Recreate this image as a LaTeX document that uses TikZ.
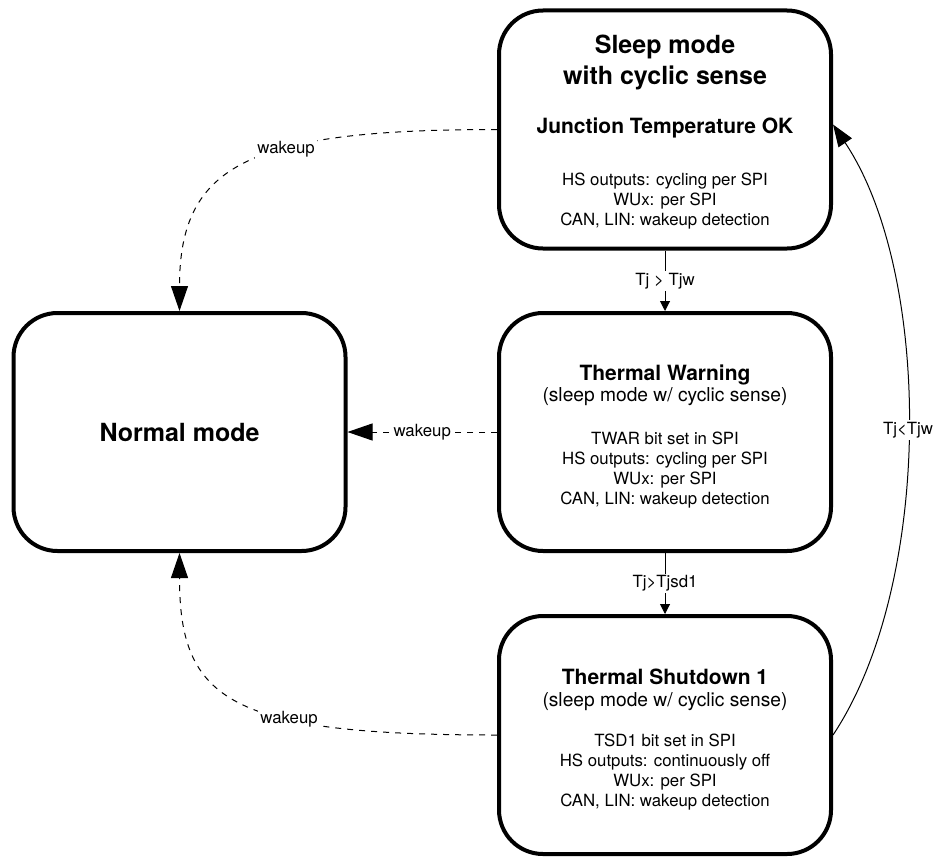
\documentclass[tikz,border=0pt]{standalone}
\usepackage{fontspec}
\setmainfont{TeX Gyre Heros}
\newcommand*{\titlefont}{\fontsize{12.5pt}{15pt}\selectfont\bfseries}
\newcommand*{\headfont}{\fontsize{10.5pt}{12.5pt}\selectfont\bfseries}
\newcommand*{\subfont}{\fontsize{9.6pt}{11.5pt}\selectfont}
\newcommand*{\bodyfont}{\fontsize{8.4pt}{10pt}\selectfont}
\usepackage{tikz}
\usetikzlibrary{arrows.meta}
\usetikzlibrary{positioning}
\tikzstyle{base}=[font=\bodyfont, inner sep=1pt]
\tikzstyle{state}=[draw, line width=2pt, rounded corners=22pt, minimum width=166pt, minimum height=119pt, align=center]
\tikzstyle{temp}=[line width=0.5pt, -{Triangle[length=5pt,width=5pt]}]
\tikzstyle{wake}=[line width=0.5pt, dashed, -{Triangle[length=12.5pt,width=8.5pt]}]
\tikzstyle{back}=[line width=0.5pt, -{Triangle[length=11pt,width=8pt]}]
\tikzstyle{lbl}=[fill=white, inner sep=1pt]

\begin{document}
\begin{tikzpicture}[base]
    \useasboundingbox (0,0) rectangle (467.5pt,429.5pt);
        \node [state] (sleep) at (332.5pt,364.75pt) {{\titlefont\rule{0pt}{12pt}Sleep mode}\\[2.5pt]{\titlefont with cyclic sense}\\[13pt]{\headfont Junction Temperature OK}\\[16pt]HS outputs: cycling per SPI\\WUx: per SPI\\CAN, LIN: wakeup detection};
        \node [state, below=30.25pt of sleep] (warn) {{\headfont\rule{0pt}{12pt}Thermal Warning}\\[0.5pt]{\subfont (sleep mode w/ cyclic sense)}\\[11.5pt]TWAR bit set in SPI\\HS outputs: cycling per SPI\\WUx: per SPI\\CAN, LIN: wakeup detection};
        \node [state, below=30.5pt of warn] (shut) {{\headfont\rule{0pt}{12pt}Thermal Shutdown 1}\\[1pt]{\subfont (sleep mode w/ cyclic sense)}\\[10pt]TSD1 bit set in SPI\\HS outputs: continuously off\\WUx: per SPI\\CAN, LIN: wakeup detection};
        \node [state, left=74.75pt of warn] (normal) {\titlefont Normal mode};
        \draw [temp] (sleep) -- node [lbl] {Tj > Tjw} (warn);
        \draw [temp] (warn) -- node [lbl] {Tj>Tjsd1} (shut);
        \draw [wake] (sleep.west) .. controls +(-123.5pt,0pt) and +(0pt,73.5pt) .. node [lbl, pos=0.38] {wakeup} (normal.north);
        \draw [wake] (warn) -- node [lbl] {wakeup} (normal);
        \draw [wake] (shut.west) .. controls +(-133.5pt,0pt) and +(0pt,-74pt) .. node [lbl, pos=0.35] {wakeup} (normal.south);
        \draw [back] (shut.east) .. controls +(50pt,75pt) and +(50pt,-75pt) .. node [lbl] {Tj<Tjw} ([yshift=2.5pt]sleep.east);
    \end{tikzpicture}
\end{document}
